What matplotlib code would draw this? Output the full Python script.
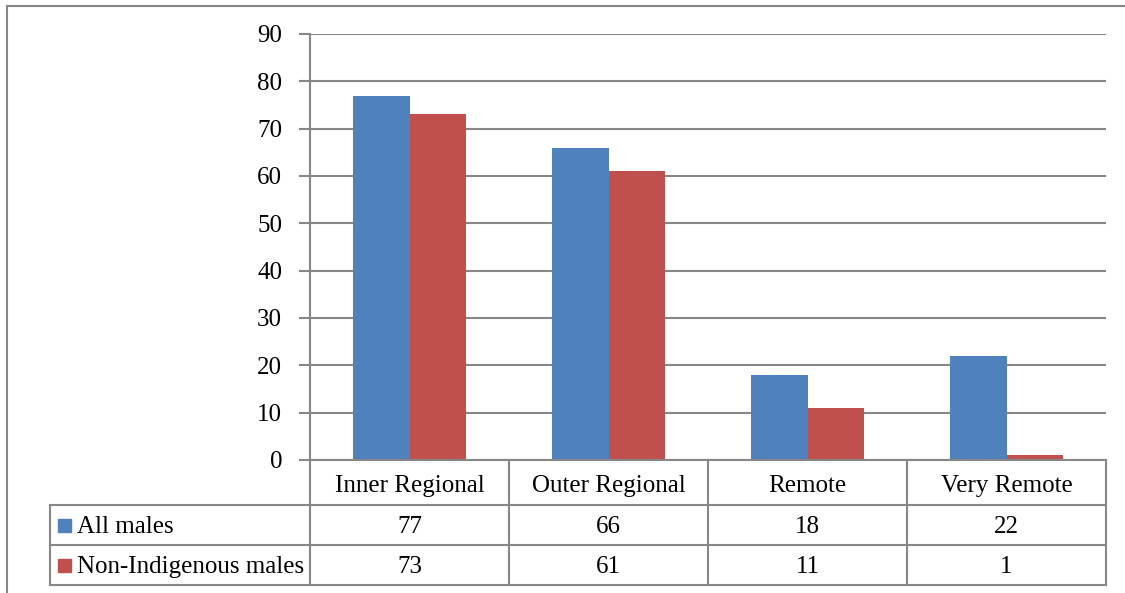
import matplotlib
matplotlib.use("Agg")
import matplotlib.pyplot as plt
from matplotlib.lines import Line2D
from matplotlib.patches import Rectangle

categories = ["Inner Regional", "Outer Regional", "Remote", "Very Remote"]
series_names = ["All males", "Non-Indigenous males"]
all_males = [77, 66, 18, 22]
non_indigenous = [73, 61, 11, 1]
y_ticks = [0, 10, 20, 30, 40, 50, 60, 70, 80, 90]

BLUE = "#4F81BD"
RED = "#C0504D"
GRID = "#878787"
W, H = 1125, 593
FS = 18

plt.rcParams["font.family"] = ["Liberation Serif", "DejaVu Serif"]

fig = plt.figure(figsize=(W / 100, H / 100), dpi=100)


def fx(px):
    return px / W


def fy(py):
    return 1 - py / H


# plot area
x0, x1, ytop, ybot = 310, 1106, 34, 460
ax = fig.add_axes([fx(x0), fy(ybot), fx(x1 - x0), (ybot - ytop) / H])
bw = 0.286
xs = range(len(categories))
ax.bar([i - bw / 2 for i in xs], all_males, bw, color=BLUE, zorder=3)
ax.bar([i + bw / 2 for i in xs], non_indigenous, bw, color=RED, zorder=3)
ax.set_xlim(-0.5, len(categories) - 0.5)
ax.set_ylim(0, 90)
ax.set_yticks(y_ticks)
ax.set_xticks([])
ax.yaxis.grid(True, color=GRID, lw=1.5, zorder=0)
for s in ["top", "right", "bottom"]:
    ax.spines[s].set_visible(False)
ax.spines["left"].set_color(GRID)
ax.spines["left"].set_linewidth(1.5)
ax.tick_params(axis="y", length=8, width=1.5, color=GRID, labelsize=FS, pad=12)

# data table below the plot
col_edges = [x0 + i * (x1 - x0) / len(categories) for i in range(len(categories) + 1)]
row_edges = [460, 505, 545, 585]
baselines = [492, 533, 573]
tab_left = 50
lines = []
lines.append(((x0, x1), (row_edges[0], row_edges[0])))
for y in row_edges[1:]:
    lines.append(((tab_left, x1), (y, y)))
for x in col_edges:
    lines.append(((x, x), (row_edges[0], row_edges[-1])))
lines.append(((tab_left, tab_left), (row_edges[1], row_edges[-1])))
# outer chart border
lines.append(((7, W), (6, 6)))
lines.append(((7, 7), (6, H)))
for (xa, xb), (ya, yb) in lines:
    fig.add_artist(Line2D([fx(xa), fx(xb)], [fy(ya), fy(yb)], color=GRID, lw=1.5))

for i, cat in enumerate(categories):
    cx = (col_edges[i] + col_edges[i + 1]) / 2
    fig.text(fx(cx), fy(baselines[0]), cat, ha="center", va="baseline", fontsize=FS)
    for r, vals in enumerate([all_males, non_indigenous]):
        fig.text(fx(cx), fy(baselines[r + 1]), str(vals[i]),
                 ha="center", va="baseline", fontsize=FS)

for r, (name, color) in enumerate(zip(series_names, [BLUE, RED])):
    cy = (row_edges[r + 1] + row_edges[r + 2]) / 2
    fig.add_artist(Rectangle((fx(58), fy(cy + 6.5)), fx(13), 13 / H, color=color))
    fig.text(fx(77), fy(baselines[r + 1]), name, ha="left", va="baseline", fontsize=FS)

fig.savefig("out.png", dpi=100)
